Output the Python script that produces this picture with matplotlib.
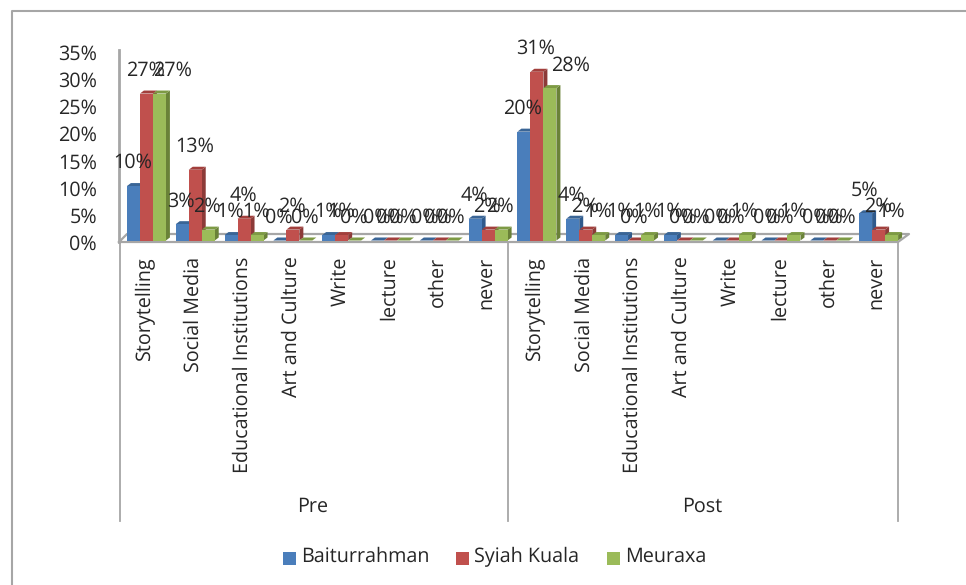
import numpy as np
import matplotlib
matplotlib.use('Agg')
import matplotlib.pyplot as plt
from matplotlib.transforms import ScaledTranslation

plt.rcParams['font.family'] = ['Open Sans', 'DejaVu Sans']
plt.rcParams['text.hinting'] = 'no_hinting'

categories = ["Storytelling", "Social Media", "Educational Institutions", "Art and Culture",
              "Write", "lecture", "other", "never"]
periods = ["Pre", "Post"]
baiturrahman = [10, 3, 1, 0, 1, 0, 0, 4, 20, 4, 1, 1, 0, 0, 0, 5]
syiah_kuala = [27, 13, 4, 2, 1, 0, 0, 2, 31, 2, 0, 0, 0, 0, 0, 2]
meuraxa = [27, 2, 1, 0, 0, 0, 0, 2, 28, 1, 1, 0, 1, 1, 0, 1]
y_ticks = [0, 5, 10, 15, 20, 25, 30, 35]

W, H = 966, 585
txt = '#262626'
grid = '#a6a6a6'
fs = 14.2
px = 72 / 100  # points per pixel at dpi 100

fig = plt.figure(figsize=(W / 100, H / 100), dpi=100, facecolor='white')

# overlay in pixel coordinates for frame, floor, separators, legend
bg = fig.add_axes([0, 0, 1, 1])
bg.set_xlim(0, W)
bg.set_ylim(H, 0)
bg.axis('off')
bg.plot([12, 12, W], [H, 11, 11], color=grid, lw=1.5)
bg.plot([119, 119], [50, 242], color=grid, lw=2)
bg.plot([119, 127, 909, 898, 119], [242, 234, 234, 242, 242], color=grid, lw=1.6)
for x in [119.5, 507.5, 897.5]:
    bg.plot([x, x], [242, 521], color=grid, lw=1.3)
for name, x in zip(periods, [313, 702]):
    bg.text(x, 507, name, ha='center', va='center', fontsize=fs, color=txt)

# plot area
ax = fig.add_axes([122 / W, 1 - 240.5 / H, 781 / W, 190.5 / H])
ax.patch.set_alpha(0)
ax.set_xlim(0, 16)
ax.set_ylim(0, 35)
for s in ax.spines.values():
    s.set_visible(False)
ax.set_yticks(y_ticks)
ax.set_yticklabels(["{}%".format(v) for v in y_ticks], fontsize=fs, color=txt)
ax.tick_params(axis='y', length=0, pad=25 * px)
for lab in ax.get_yticklabels():
    lab.set_transform(lab.get_transform() + ScaledTranslation(0, -2 / 100, fig.dpi_scale_trans))
ax.set_xticks(np.arange(16) + 0.47)
ax.set_xticklabels(categories * 2, rotation=90, fontsize=fs, color=txt, va='top', ha='center')
ax.tick_params(axis='x', length=0, pad=16 * px)

w = 13 / 48.8
dx = 4 / 48.8
dy = 3 * 35 / 190.5
series = [
    ("Baiturrahman", baiturrahman, '#4a7ebb', '#3a6596', '#2f5a8c'),
    ("Syiah Kuala", syiah_kuala, '#c0504d', '#a23f3c', '#8c3a38'),
    ("Meuraxa", meuraxa, '#9bbb59', '#7d9a44', '#6a8238'),
]
xs = np.arange(16) + 0.5

for k, (name, vals, front, top, side) in enumerate(series):
    for x, v in zip(xs + (k - 1) * w, vals):
        l, r = x - w / 2, x + w / 2
        ax.fill([r, r + dx, r + dx, r], [0, dy, v + dy, v], color=side, lw=0, clip_on=False, zorder=3 + k)
        ax.fill([l, r, r + dx, l + dx], [v, v, v + dy, v + dy], color=top, lw=0, clip_on=False, zorder=3 + k)
    ax.bar(xs + (k - 1) * w, vals, width=w, color=front, zorder=3 + k)

# labels go on top, two of them were moved by hand in the original
for k, (name, vals, front, top, side) in enumerate(series):
    for i, (x, v) in enumerate(zip(xs + (k - 1) * w, vals)):
        shift = -1
        if k == 2 and i == 0:
            shift = 13
        if k == 2 and i == 8:
            shift = 21
        ax.annotate("{}%".format(v), (x, v), xytext=(shift * px, 23 * px), textcoords='offset points',
                    ha='center', va='center', fontsize=fs, color=txt, zorder=10, annotation_clip=False)

# legend
for (name, vals, front, top, side), x in zip(series, [283, 456, 607]):
    bg.fill([x, x + 13, x + 13, x], [552, 552, 565, 565], color=front, lw=0)
    bg.text(x + 18, 557, name, ha='left', va='center', fontsize=fs, color=txt)

fig.savefig('out.png', dpi=100)
